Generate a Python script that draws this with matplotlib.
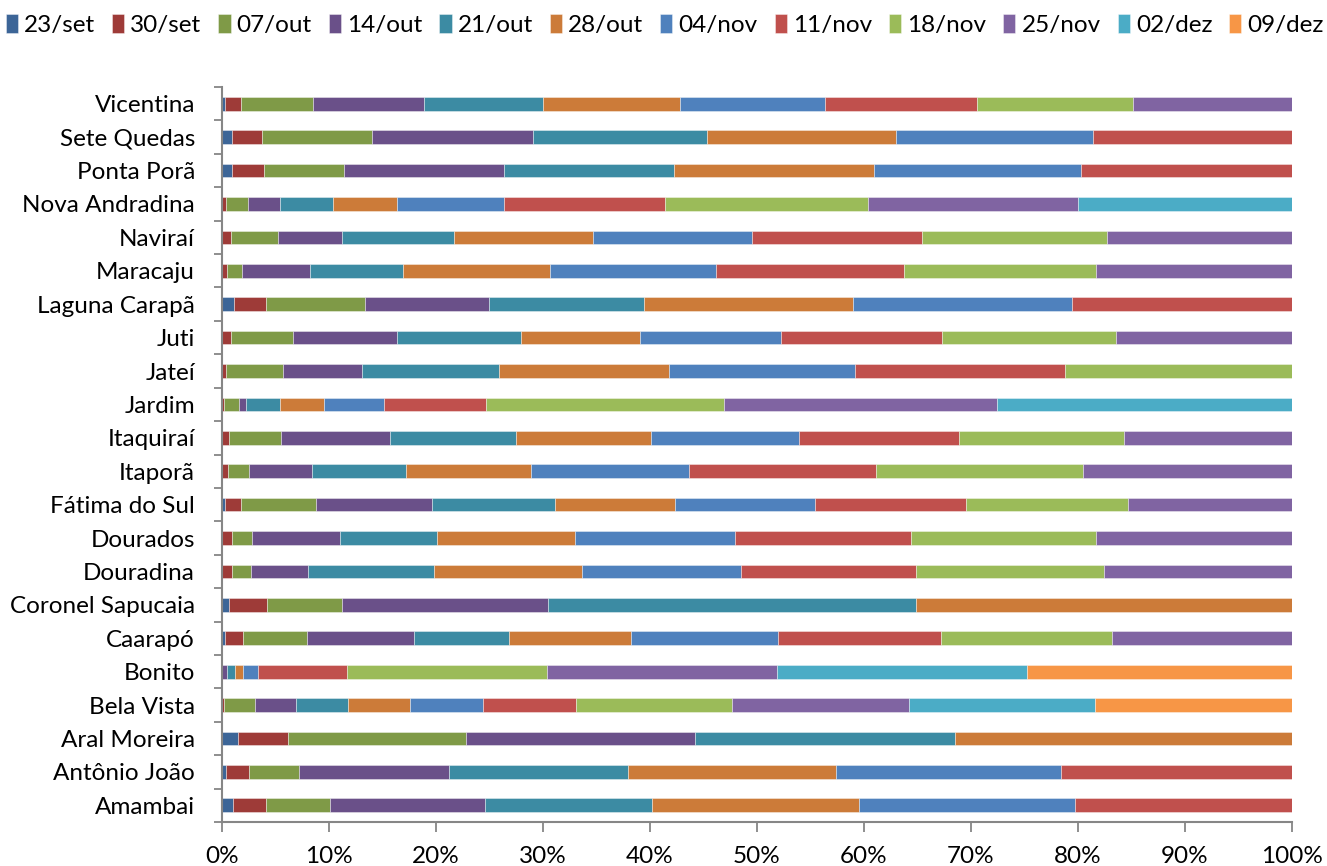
import numpy as np
import matplotlib
matplotlib.use("Agg")
import matplotlib.pyplot as plt

plt.rcParams['font.family'] = ['Lato', 'DejaVu Sans']

municipios = ["Vicentina", "Sete Quedas", "Ponta Porã", "Nova Andradina", "Naviraí",
              "Maracaju", "Laguna Carapã", "Juti", "Jateí", "Jardim", "Itaquiraí",
              "Itaporã", "Fátima do Sul", "Dourados", "Douradina", "Coronel Sapucaia",
              "Caarapó", "Bonito", "Bela Vista", "Aral Moreira", "Antônio João", "Amambai"]

datas = ["23/set", "30/set", "07/out", "14/out", "21/out", "28/out",
         "04/nov", "11/nov", "18/nov", "25/nov", "02/dez", "09/dez"]

s23set = [0.3, 0.9, 0.9, 0, 0, 0, 1.1, 0, 0, 0, 0, 0, 0.3, 0, 0, 0.7, 0.3, 0, 0, 1.5, 0.4, 1.0]
s30set = [1.5, 2.8, 3.0, 0.4, 0.8, 0.5, 3.0, 0.8, 0.4, 0.2, 0.7, 0.6, 1.5, 0.9, 0.9, 3.5, 1.7, 0, 0.2, 4.7, 2.1, 3.1]
s07out = [6.7, 10.3, 7.5, 2.0, 4.4, 1.4, 9.3, 5.8, 5.3, 1.4, 4.8, 1.9, 7.0, 1.9, 1.8, 7.0, 5.9, 0, 2.9, 16.6, 4.7, 6.0]
s14out = [10.4, 15.1, 15.0, 3.0, 6.0, 6.3, 11.6, 9.8, 7.4, 0.6, 10.2, 5.9, 10.8, 8.2, 5.3, 19.3, 10.0, 0.5, 3.8, 21.4, 14.0, 14.5]
s21out = [11.1, 16.2, 15.8, 5.0, 10.5, 8.7, 14.4, 11.5, 12.8, 3.2, 11.8, 8.8, 11.5, 9.1, 11.8, 34.4, 8.9, 0.7, 4.9, 24.3, 16.7, 15.6]
s28out = [12.8, 17.7, 18.7, 6.0, 13.0, 13.8, 19.6, 11.2, 15.9, 4.1, 12.6, 11.7, 11.2, 12.9, 13.8, 35.1, 11.4, 0.8, 5.8, 31.5, 19.5, 19.3]
s04nov = [13.6, 18.4, 19.4, 10.0, 14.8, 15.5, 20.4, 13.1, 17.4, 5.6, 13.8, 14.7, 13.1, 14.9, 14.9, 0, 13.8, 1.4, 6.8, 0, 21.0, 20.2]
s11nov = [14.2, 18.6, 19.7, 15.0, 15.9, 17.5, 20.6, 15.1, 19.6, 9.6, 15.0, 17.5, 14.1, 16.5, 16.4, 0, 15.2, 8.3, 8.7, 0, 21.6, 20.3]
s18nov = [14.5, 0, 0, 19.0, 17.3, 18.0, 0, 16.3, 21.2, 22.2, 15.4, 19.4, 15.2, 17.3, 17.5, 0, 16.0, 18.7, 14.6, 0, 0, 0]
s25nov = [14.9, 0, 0, 19.6, 17.3, 18.3, 0, 16.4, 0, 25.5, 15.7, 19.5, 15.3, 18.3, 17.6, 0, 16.8, 21.5, 16.5, 0, 0, 0]
s02dez = [0, 0, 0, 20.0, 0, 0, 0, 0, 0, 27.6, 0, 0, 0, 0, 0, 0, 0, 23.3, 17.4, 0, 0, 0]
s09dez = [0, 0, 0, 0, 0, 0, 0, 0, 0, 0, 0, 0, 0, 0, 0, 0, 0, 24.8, 18.4, 0, 0, 0]

cores = ["#3C6597", "#9E3B38", "#7F9A47", "#6A5089", "#3C8BA3", "#CC7B39",
         "#4F81BD", "#C0504D", "#9BBB59", "#8064A2", "#4BACC6", "#F79646"]

series = np.array([s23set, s30set, s07out, s14out, s21out, s28out,
                   s04nov, s11nov, s18nov, s25nov, s02dez, s09dez], dtype=float)
# normalise each municipality to 100 %
series = series / series.sum(axis=0) * 100

FS = 17.5

fig = plt.figure(figsize=(13.27, 8.66), dpi=100)
ax = fig.add_axes([0.1673, 0.0508, 0.8063, 0.8487])

y = np.arange(len(municipios))
left = np.zeros(len(municipios))
handles = []
for vals, lab, c in zip(series, datas, cores):
    b = ax.barh(y, vals, left=left, height=0.41, color=c, label=lab,
                edgecolor=(1, 1, 1, 0.45), linewidth=0.6)
    handles.append(b)
    left += vals

ax.set_xlim(0, 100)
ax.set_ylim(len(municipios) - 0.5, -0.5)
ax.set_yticks(y)
ax.set_yticklabels(municipios, fontsize=FS)
ax.set_yticks(np.arange(-0.5, len(municipios), 1), minor=True)
ax.tick_params(axis='y', which='major', length=0, pad=19.5)
ax.tick_params(axis='y', which='minor', length=6, width=1.3, color='#868686')
ax.set_xticks(np.arange(0, 101, 10))
ax.set_xticklabels([f"{v}%" for v in range(0, 101, 10)], fontsize=FS)
ax.tick_params(axis='x', length=7, width=1.3, color='#868686', pad=10)

for s in ['top', 'right']:
    ax.spines[s].set_visible(False)
for s in ['left', 'bottom']:
    ax.spines[s].set_color('#868686')
    ax.spines[s].set_linewidth(1.5)

fig.legend(handles=handles, labels=datas, loc='upper center', ncol=12,
           bbox_to_anchor=(0.501, 1.004), frameon=False, fontsize=FS,
           handlelength=0.5, handleheight=0.85, handletextpad=0.25,
           columnspacing=0.7, borderaxespad=0.3)

fig.savefig("out.png", dpi=100)
